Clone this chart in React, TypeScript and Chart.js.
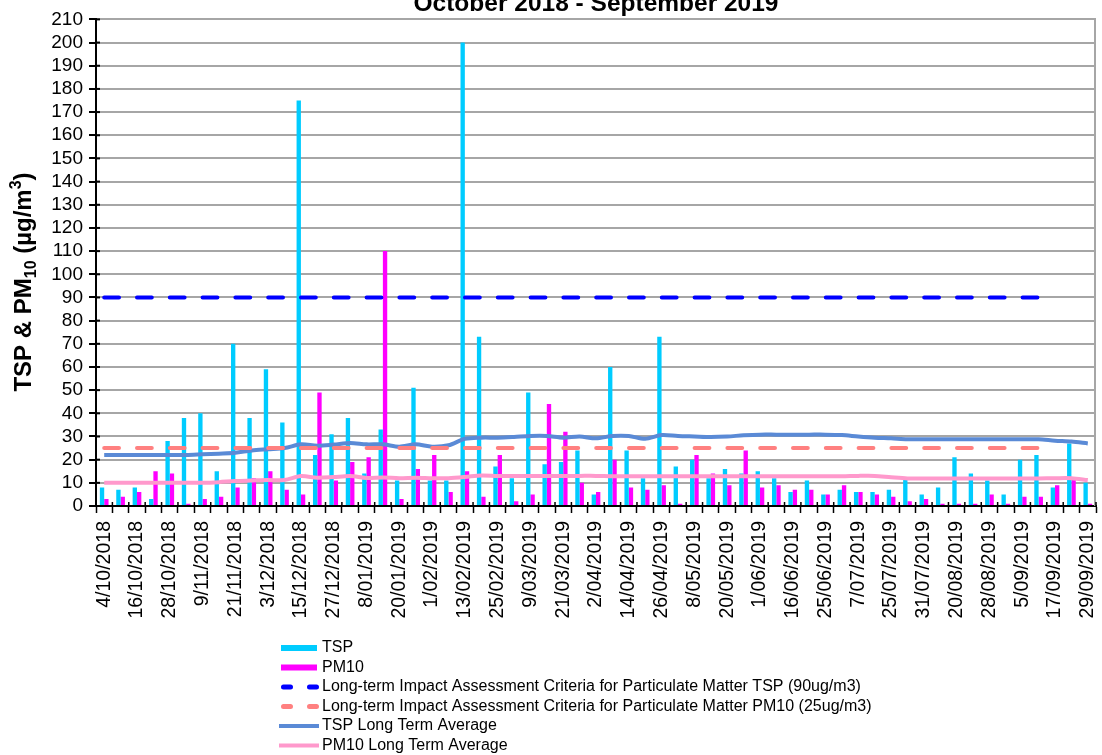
import React, { useEffect, useRef } from 'react';
import { Chart, registerables } from 'chart.js';

Chart.register(...registerables);

const FONT = "'Liberation Sans', Arial, Helvetica, sans-serif";

const TITLE = 'October 2018 - September 2019';

const DATES = [
  '4/10/2018', '10/10/2018', '16/10/2018', '22/10/2018', '28/10/2018', '3/11/2018', '9/11/2018', '15/11/2018',
  '21/11/2018', '27/11/2018', '3/12/2018', '9/12/2018', '15/12/2018', '21/12/2018', '27/12/2018', '2/01/2019',
  '8/01/2019', '14/01/2019', '20/01/2019', '26/01/2019', '1/02/2019', '7/02/2019', '13/02/2019', '19/02/2019',
  '25/02/2019', '3/03/2019', '9/03/2019', '15/03/2019', '21/03/2019', '27/03/2019', '2/04/2019', '8/04/2019',
  '14/04/2019', '20/04/2019', '26/04/2019', '2/05/2019', '8/05/2019', '14/05/2019', '20/05/2019', '26/05/2019',
  '1/06/2019', '7/06/2019', '16/06/2019', '19/06/2019', '25/06/2019', '1/07/2019', '7/07/2019', '13/07/2019',
  '25/07/2019', '28/07/2019', '31/07/2019', '12/08/2019', '20/08/2019', '26/08/2019', '28/08/2019', '1/09/2019',
  '5/09/2019', '11/09/2019', '17/09/2019', '23/09/2019', '29/09/2019',
];

const TSP = [
  8, 7, 8, 3, 28, 38, 40, 15, 70, 38,
  59, 36, 175, 22, 31, 38, 14, 33, 11, 51,
  11, 11, 200, 73, 17, 12, 49, 18, 19, 24,
  5, 60, 24, 12, 73, 17, 20, 12, 16, 14,
  15, 12, 6, 11, 5, 7, 6, 6, 7, 12,
  5, 8, 21, 14, 11, 5, 20, 22, 8, 27, 10,
];

const PM10 = [
  3, 4, 6, 15, 14, 1, 3, 4, 8, 12,
  15, 7, 5, 49, 11, 19, 21, 110, 3, 16,
  22, 6, 15, 4, 22, 2, 5, 44, 32, 10,
  6, 20, 8, 7, 9, 1, 22, 14, 9, 24,
  8, 9, 7, 7, 5, 9, 6, 5, 4, 2,
  3, 1, 1, 1, 5, 1, 4, 4, 9, 12, 1,
];

const TSP_CRITERIA = [
  90, 90, 90, 90, 90, 90, 90, 90, 90, 90,
  90, 90, 90, 90, 90, 90, 90, 90, 90, 90,
  90, 90, 90, 90, 90, 90, 90, 90, 90, 90,
  90, 90, 90, 90, 90, 90, 90, 90, 90, 90,
  90, 90, 90, 90, 90, 90, 90, 90, 90, 90,
  90, 90, 90, 90, 90, 90, 90, 90, 90, null, null,
];

const PM10_CRITERIA = [
  25, 25, 25, 25, 25, 25, 25, 25, 25, 25,
  25, 25, 25, 25, 25, 25, 25, 25, 25, 25,
  25, 25, 25, 25, 25, 25, 25, 25, 25, 25,
  25, 25, 25, 25, 25, 25, 25, 25, 25, 25,
  25, 25, 25, 25, 25, 25, 25, 25, 25, 25,
  25, 25, 25, 25, 25, 25, 25, 25, 25, null, null,
];

const TSP_AVG = [
  22, 22, 22, 22, 22, 22, 22.3, 22.6, 23, 24,
  24.5, 25, 26.6, 26, 26.5, 27.2, 26.6, 26.6, 25.6, 26.6,
  25.6, 26.2, 29, 29.5, 29.5, 29.8, 30.2, 30.2, 29.5, 30,
  29.2, 30.2, 30.2, 29, 30.6, 30.2, 30, 29.8, 30, 30.5,
  30.8, 30.8, 30.8, 30.8, 30.8, 30.6, 30, 29.5, 29.2, 28.8,
  28.8, 28.8, 28.8, 28.8, 28.8, 28.8, 28.8, 28.8, 28.2, 27.8, 27,
];

const PM10_AVG = [
  10, 10, 10, 10, 10, 10, 10, 10.3, 10.8, 11,
  11.2, 11.2, 12.9, 12.2, 12.5, 12.9, 12.1, 12.3, 12, 12.2,
  12, 12, 12.5, 13.2, 13, 13, 13, 13, 13, 13,
  13, 12.8, 12.8, 12.8, 12.8, 12.8, 12.8, 12.8, 12.8, 12.8,
  12.8, 12.8, 12.8, 12.8, 12.8, 12.8, 13, 13, 12.4, 11.9,
  11.9, 11.9, 11.9, 11.9, 11.9, 11.9, 11.9, 11.9, 12, 12, 11.2,
];

const LABELS = {
  tsp: 'TSP',
  pm10: 'PM10',
  tspCrit: 'Long-term Impact Assessment Criteria for Particulate Matter TSP (90ug/m3)',
  pm10Crit: 'Long-term Impact Assessment Criteria for Particulate Matter PM10 (25ug/m3)',
  tspAvg: 'TSP Long Term Average',
  pm10Avg: 'PM10 Long Term Average',
};

// y axis title pieces: [text, kind]
const Y_TITLE = [
  ['TSP & PM', 'n'],
  ['10', 'sub'],
  [' (µg/m', 'n'],
  ['3', 'sup'],
  [')', 'n'],
];

const decorPlugin = {
  id: 'excelDecor',
  afterDatasetsDraw(chart: any) {
    const { ctx, chartArea } = chart;
    const { left, right, top, bottom } = chartArea;
    const xs = chart.scales.x;
    const ys = chart.scales.y;
    ctx.save();
    // plot area right border
    ctx.strokeStyle = '#A6A6A6';
    ctx.lineWidth = 2;
    ctx.beginPath();
    ctx.moveTo(right - 1, top);
    ctx.lineTo(right - 1, bottom);
    ctx.stroke();
    // crossing tick marks (inner part)
    ctx.strokeStyle = '#000';
    ctx.lineWidth = 2;
    ys.ticks.forEach((_t: any, i: number) => {
      const py = ys.getPixelForTick(i);
      ctx.beginPath();
      ctx.moveTo(left, py);
      ctx.lineTo(left + 4, py);
      ctx.stroke();
    });
    ctx.lineWidth = 1.5;
    const n = xs.ticks.length;
    for (let i = 0; i <= n; i++) {
      const px = left + ((right - left) * i) / n;
      ctx.beginPath();
      ctx.moveTo(px, bottom - 4);
      ctx.lineTo(px, bottom);
      ctx.stroke();
    }
    ctx.restore();
  },
  afterDraw(chart: any) {
    const { ctx } = chart;
    ctx.save();
    // ---- y axis title with subscript / superscript
    const big = 24;
    const small = 16;
    const fontFor = (k: string) => `bold ${k === 'n' ? big : small}px ${FONT}`;
    let total = 0;
    Y_TITLE.forEach(([t, k]) => {
      ctx.font = fontFor(k);
      total += ctx.measureText(t).width;
    });
    ctx.translate(31, 292);
    ctx.rotate(-Math.PI / 2);
    ctx.fillStyle = '#000';
    ctx.textBaseline = 'alphabetic';
    ctx.textAlign = 'left';
    let cx = -total / 2;
    Y_TITLE.forEach(([t, k]) => {
      ctx.font = fontFor(k);
      const dy = k === 'sub' ? 5 : k === 'sup' ? -10 : 0;
      ctx.fillText(t, cx, dy);
      cx += ctx.measureText(t).width;
    });
    ctx.restore();

    // ---- legend (one item per row, below the axis labels)
    ctx.save();
    const rows = [658, 677.5, 697, 716.5, 736, 755.5];
    const x0 = 281;
    const x1 = 317;
    chart.data.datasets.forEach((ds: any, i: number) => {
      const y = rows[i];
      if (ds.type === 'bar') {
        ctx.fillStyle = ds.backgroundColor;
        ctx.fillRect(x0, y - 3, x1 - x0, 6);
      } else {
        ctx.strokeStyle = ds.borderColor;
        ctx.lineCap = 'round';
        ctx.lineWidth = ds.borderDash ? 5 : 4;
        if (ds.borderDash) {
          ctx.setLineDash([7, 19]);
          ctx.beginPath();
          ctx.moveTo(x0 + 2.5, y);
          ctx.lineTo(x1 + 2, y);
          ctx.stroke();
          ctx.setLineDash([]);
        } else {
          ctx.lineCap = 'butt';
          ctx.beginPath();
          ctx.moveTo(x0 - 2, y);
          ctx.lineTo(x1 + 2, y);
          ctx.stroke();
        }
      }
      ctx.fillStyle = '#000';
      ctx.font = `16px ${FONT}`;
      ctx.textBaseline = 'middle';
      ctx.textAlign = 'left';
      ctx.fillText(ds.label, 322, y);
    });
    ctx.restore();
  },
};

export default function App() {
  const canvasRef = useRef<HTMLCanvasElement | null>(null);

  useEffect(() => {
    if (!canvasRef.current) return;
    const lineCommon = { type: 'line', pointRadius: 0, pointHoverRadius: 0, fill: false, order: 1 };
    const chart = new Chart(canvasRef.current, {
      type: 'bar',
      data: {
        labels: DATES,
        datasets: [
          {
            type: 'bar', label: LABELS.tsp, data: TSP, backgroundColor: '#00CCFF',
            categoryPercentage: 0.53, barPercentage: 1, borderWidth: 0, order: 2,
          },
          {
            type: 'bar', label: LABELS.pm10, data: PM10, backgroundColor: '#FF00FF',
            categoryPercentage: 0.53, barPercentage: 1, borderWidth: 0, order: 2,
          },
          {
            ...lineCommon, label: LABELS.tspCrit, data: TSP_CRITERIA, borderColor: '#0000FF',
            borderWidth: 4, borderDash: [14.8, 18], borderCapStyle: 'round', tension: 0,
          },
          {
            ...lineCommon, label: LABELS.pm10Crit, data: PM10_CRITERIA, borderColor: '#FF8080',
            borderWidth: 4, borderDash: [14.8, 18], borderCapStyle: 'round', tension: 0,
          },
          {
            ...lineCommon, label: LABELS.tspAvg, data: TSP_AVG, borderColor: '#5A8AD6',
            borderWidth: 4, tension: 0.3,
          },
          {
            ...lineCommon, label: LABELS.pm10Avg, data: PM10_AVG, borderColor: '#FF99CC',
            borderWidth: 4, tension: 0.3,
          },
        ] as any,
      },
      options: {
        animation: false,
        responsive: true,
        maintainAspectRatio: false,
        layout: { padding: { left: 36, right: 6, top: 0, bottom: 127 } },
        plugins: {
          legend: { display: false },
          tooltip: { enabled: false },
          title: {
            display: true,
            text: TITLE,
            fullSize: false,
            color: '#000',
            font: { family: FONT, size: 24.5, weight: 'bold' },
            padding: { top: 0, bottom: 0 },
          },
        },
        scales: {
          x: {
            offset: true,
            grid: {
              display: true, drawOnChartArea: false, offset: true,
              tickLength: 7, tickColor: '#000', tickWidth: 1.5,
            },
            border: { color: '#000', width: 2 },
            ticks: {
              autoSkip: false, minRotation: 90, maxRotation: 90, padding: 8,
              color: '#000', font: { family: FONT, size: 19.5 },
              callback: function (this: any, value: any, index: number) {
                return index % 2 === 0 ? this.getLabelForValue(value) : '';
              },
            },
            afterFit: (s: any) => {
              s.height = 122;
              s.paddingLeft = 0;
              s.paddingRight = 0;
            },
          },
          y: {
            min: 0,
            max: 210,
            ticks: {
              stepSize: 10, autoSkip: false, color: '#000',
              font: { family: FONT, size: 19 }, padding: 6,
            },
            grid: { color: '#A6A6A6', lineWidth: 2, tickColor: '#000', tickLength: 7 },
            border: { color: '#000', width: 2 },
            afterFit: (s: any) => {
              s.width = 60;
              s.paddingTop = 0;
              s.paddingBottom = 0;
            },
          },
        },
      } as any,
      plugins: [decorPlugin],
    });
    return () => chart.destroy();
  }, []);

  return (
    <div style={{ position: 'absolute', left: 0, top: -10, width: 1102, height: 765 }}>
      <canvas ref={canvasRef} />
    </div>
  );
}
